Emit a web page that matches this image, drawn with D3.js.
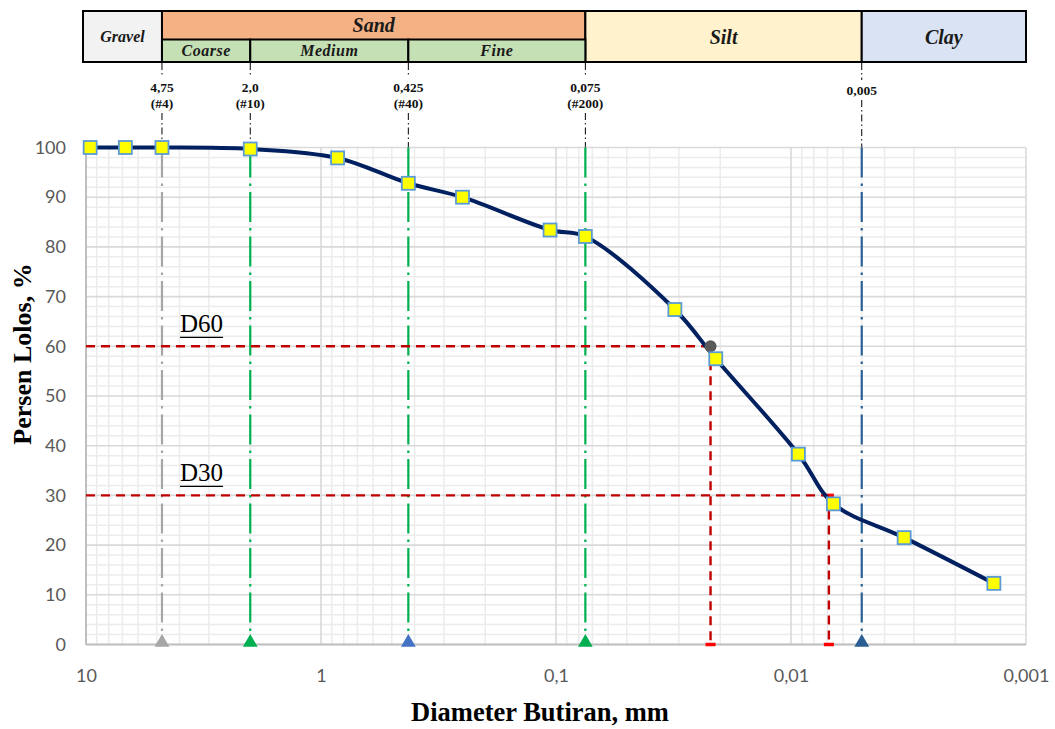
<!DOCTYPE html>
<html><head><meta charset="utf-8">
<script src="https://cdn.jsdelivr.net/npm/d3@7"></script>
<style>body{margin:0;background:#fff}svg{display:block}</style>
</head><body>
<svg id="c" width="1055" height="729"></svg>
<script>
// ---- data ----
const diameters = [9.6, 6.8, 4.75, 2.0, 0.85, 0.425, 0.25, 0.106, 0.075, 0.0312, 0.0209, 0.0093, 0.0066, 0.0033, 0.00137];
const percents  = [100, 100, 100, 99.7, 97.9, 92.8, 90.0, 83.4, 82.1, 67.4, 57.5, 38.3, 28.3, 21.5, 12.3];
const sieveSizes  = [4.75, 2.0, 0.425, 0.075, 0.005];
const sieveLabels = [["4,75","(#4)"],["2,0","(#10)"],["0,425","(#40)"],["0,075","(#200)"],["0,005"]];
const dNames = ["D60","D30"];
const dPercents = [60, 30];
const dDiameters = [0.0220, 0.0069];
const xTicks = [10, 1, 0.1, 0.01, 0.001];
const xTickLabels = ["10","1","0,1","0,01","0,001"];
const yTicks = [0,10,20,30,40,50,60,70,80,90,100];
const classNames = ["Gravel","Sand","Silt","Clay"];
const classBounds = [10, 4.75, 0.075, 0.005, 0.001];
const sandNames = ["Coarse","Medium","Fine"];
const sandBounds = [4.75, 2.0, 0.425, 0.075];

// ---- styles ----
const lineColors = ["#a6a6a6","#00b050","#00b050","#00b050","#2a5f93"];
const triColors  = ["#a6a6a6","#00b050","#4472c4","#00b050","#2a5f93"];
const classFill = ["#f2f2f2","#f4b183","#fff2cc","#dae3f3"];
const serif = "'Liberation Serif','Times New Roman',serif";
const sans = "Lato, 'Open Sans', sans-serif";

const svg = d3.select("#c");
const L = 86, R = 1026, T = 147.5, B = 644.5;
const x = d3.scaleLog().domain([10, 0.001]).range([L, R]);
const y = d3.scaleLinear().domain([0, 100]).range([B, T]);

// grid
const g = svg.append("g");
const minorX = [];
for (let e = -3; e <= 0; e++) for (let k = 2; k <= 9; k++) minorX.push(k * Math.pow(10, e));
g.selectAll(".mx").data(minorX).join("line")
  .attr("x1", d => x(d)).attr("x2", d => x(d)).attr("y1", T).attr("y2", B)
  .attr("stroke", "#ececec").attr("stroke-width", 1.5);
const minorY = d3.range(0, 101, 2).filter(v => v % 10 !== 0);
g.selectAll(".my").data(minorY).join("line")
  .attr("x1", L).attr("x2", R).attr("y1", d => y(d)).attr("y2", d => y(d))
  .attr("stroke", "#ececec").attr("stroke-width", 1.5);
g.selectAll(".Mx").data(xTicks).join("line")
  .attr("x1", d => x(d)).attr("x2", d => x(d)).attr("y1", T).attr("y2", B)
  .attr("stroke", "#d9d9d9").attr("stroke-width", 1.6);
g.selectAll(".My").data(yTicks).join("line")
  .attr("x1", L).attr("x2", R).attr("y1", d => y(d)).attr("y2", d => y(d))
  .attr("stroke", "#d9d9d9").attr("stroke-width", 1.6);
// axis lines
g.append("line").attr("x1", L).attr("x2", L).attr("y1", T).attr("y2", B).attr("stroke", "#bfbfbf").attr("stroke-width", 2);
g.append("line").attr("x1", L).attr("x2", R).attr("y1", B).attr("y2", B).attr("stroke", "#bfbfbf").attr("stroke-width", 2);

// axes labels via d3 axis
const yAxis = d3.axisLeft(y).tickValues(yTicks).tickSize(0).tickPadding(20);
const ya = svg.append("g").attr("transform", `translate(${L},0)`).call(yAxis);
ya.select(".domain").remove();
ya.selectAll("text").attr("font-family", sans).attr("font-size", 18).attr("fill", "#595959");
const xAxis = d3.axisBottom(x).tickValues(xTicks).tickFormat((d, i) => xTickLabels[i]).tickSize(0).tickPadding(25);
const xa = svg.append("g").attr("transform", `translate(0,${B})`).call(xAxis);
xa.select(".domain").remove();
xa.selectAll("text").attr("font-family", sans).attr("font-size", 18).attr("fill", "#595959");

// header
const hT = 11, hM = 39.5, hB = 62;
const hg = svg.append("g");
classNames.forEach((n, i) => {
  const x0 = i === 0 ? L - 3 : x(classBounds[i]);
  const x1 = x(classBounds[i + 1]);
  hg.append("rect").attr("x", x0).attr("y", hT).attr("width", x1 - x0).attr("height", hB - hT)
    .attr("fill", classFill[i]).attr("stroke", "#000").attr("stroke-width", 2);
  const isSand = n === "Sand";
  hg.append("text").attr("x", (x0 + x1) / 2).attr("y", isSand ? (hT + hM) / 2 : (hT + hB) / 2)
    .attr("dy", "0.35em").attr("text-anchor", "middle")
    .attr("font-family", serif).attr("font-weight", "bold").attr("font-style", "italic")
    .attr("font-size", n === "Gravel" ? 16 : 20).attr("fill", "#1a1a1a").text(n);
});
sandNames.forEach((n, i) => {
  const x0 = x(sandBounds[i]), x1 = x(sandBounds[i + 1]);
  hg.append("rect").attr("x", x0).attr("y", hM).attr("width", x1 - x0).attr("height", hB - hM)
    .attr("fill", "#c5e0b4").attr("stroke", "#000").attr("stroke-width", 2);
  hg.append("text").attr("x", (x0 + x1) / 2).attr("y", (hM + hB) / 2).attr("dy", "0.35em")
    .attr("text-anchor", "middle").attr("font-family", serif).attr("font-weight", "bold")
    .attr("font-style", "italic").attr("font-size", 16).attr("letter-spacing", 0.5).attr("fill", "#1a1a1a").text(n);
});

// sieve leader lines + labels + in-plot lines + triangles
sieveSizes.forEach((s, i) => {
  const xs = x(s);
  const lab = sieveLabels[i];
  const two = lab.length === 2;
  const gapTop = two ? 75 : 80, gapBot = two ? 113 : 100;
  [[hB + 1, gapTop], [gapBot, T]].forEach(([a, b]) => {
    svg.append("line").attr("x1", xs).attr("x2", xs).attr("y1", a).attr("y2", b)
      .attr("stroke", "#000").attr("stroke-width", 1).attr("stroke-dasharray", "7,3,1.5,3");
  });
  lab.forEach((t, j) => {
    svg.append("text").attr("x", xs).attr("y", two ? 87 + j * 16.5 : 90).attr("dy", "0.35em")
      .attr("text-anchor", "middle").attr("font-family", serif).attr("font-weight", "bold")
      .attr("font-size", 13.5).attr("fill", "#111").text(t);
  });
  svg.append("line").attr("x1", xs).attr("x2", xs).attr("y1", T).attr("y2", B - 6)
    .attr("stroke", lineColors[i]).attr("stroke-width", 2.2).attr("stroke-dasharray", "30,6,2.5,6");
  svg.append("path").attr("d", d3.symbol(d3.symbolTriangle, 95)())
    .attr("transform", `translate(${xs},${B - 2})`).attr("fill", triColors[i]);
});

// D60 / D30 lines
dNames.forEach((n, i) => {
  const xd = x(dDiameters[i]), yd = y(dPercents[i]);
  svg.append("line").attr("x1", L).attr("x2", xd).attr("y1", yd).attr("y2", yd)
    .attr("stroke", "#c00000").attr("stroke-width", 2.4).attr("stroke-dasharray", "9,6");
  svg.append("line").attr("x1", xd).attr("x2", xd).attr("y1", yd).attr("y2", B)
    .attr("stroke", "#c00000").attr("stroke-width", 2.4).attr("stroke-dasharray", "9,6");
  [yd, B].forEach(yy => svg.append("line").attr("x1", xd - 5).attr("x2", xd + 5)
    .attr("y1", yy).attr("y2", yy).attr("stroke", "#ff0000").attr("stroke-width", 3.5));
  const t = svg.append("text").attr("x", 180).attr("y", yd - 14)
    .attr("font-family", serif).attr("font-size", 25).attr("fill", "#000").text(n);
  const w = t.node().getComputedTextLength();
  svg.append("line").attr("x1", 180).attr("x2", 180 + w).attr("y1", yd - 9).attr("y2", yd - 9)
    .attr("stroke", "#000").attr("stroke-width", 1.3);
});

// data curve
const pts = diameters.map((d, i) => [d, percents[i]]);
const line = d3.line().x(d => x(d[0])).y(d => y(d[1])).curve(d3.curveCatmullRom.alpha(0.5));
svg.append("path").datum(pts).attr("d", line).attr("fill", "none")
  .attr("stroke", "#002060").attr("stroke-width", 4);
// D60 intersection marker
svg.append("circle").attr("cx", x(dDiameters[0])).attr("cy", y(dPercents[0])).attr("r", 6).attr("fill", "#595959");
// markers
svg.selectAll(".pt").data(pts).join("rect")
  .attr("x", d => x(d[0]) - 6.5).attr("y", d => y(d[1]) - 6.5).attr("width", 13).attr("height", 13)
  .attr("fill", "#ffff00").attr("stroke", "#5b9bd5").attr("stroke-width", 1.8);

// axis titles
svg.append("text").attr("x", 540).attr("y", 721).attr("text-anchor", "middle")
  .attr("font-family", serif).attr("font-weight", "bold").attr("font-size", 26.5).text("Diameter Butiran, mm");
svg.append("text").attr("transform", "translate(31,354) rotate(-90)").attr("text-anchor", "middle")
  .attr("font-family", serif).attr("font-weight", "bold").attr("font-size", 26).text("Persen Lolos, %");
</script>
</body></html>
